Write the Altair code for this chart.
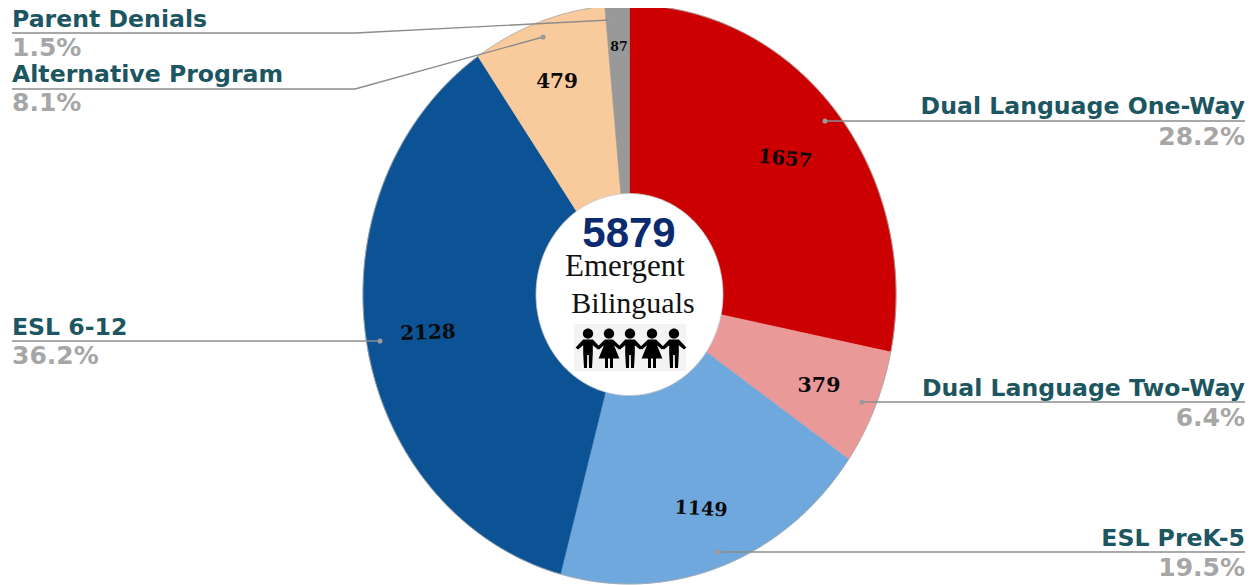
import math
import altair as alt
import pandas as pd

W, H = 1237, 577
categories = ["Dual Language One-Way", "Dual Language Two-Way", "ESL PreK-5", "ESL 6-12", "Alternative Program", "Parent Denials"]
counts = [1657, 379, 1149, 2128, 479, 87]
percents = ["28.2%", "6.4%", "19.5%", "36.2%", "8.1%", "1.5%"]
colors = ["#cc0000", "#ea9999", "#6fa8dc", "#0b5394", "#f9cb9c", "#999999"]
total_label = "5879"

CX, CY, RX, RY = 629.5 - 8, 294.5 - 8, 266.5, 289.5
HRX, HRY = 93.5, 101


def ell(t, rx=RX, ry=RY):
    return CX + rx * math.sin(t), CY - ry * math.cos(t)


features = []
tot = sum(counts)
cum = 0
for c, v in zip(categories, counts):
    a0 = cum / tot * 2 * math.pi
    cum += v
    a1 = cum / tot * 2 * math.pi
    n = max(3, int((a1 - a0) / 0.01))
    ring = [[CX, CY]] + [list(ell(a0 + (a1 - a0) * i / n)) for i in range(n + 1)] + [[CX, CY]]
    features.append({"type": "Feature", "geometry": {"type": "Polygon", "coordinates": [ring]}, "properties": {"cat": c}})

cat_scale = alt.Scale(domain=categories, range=colors)
slices = alt.Chart(alt.Data(values=features)).mark_geoshape(strokeWidth=0.6).encode(
    fill=alt.Fill("properties.cat:N", scale=cat_scale, legend=None),
    stroke=alt.Stroke("properties.cat:N", scale=cat_scale, legend=None),
).project(type="identity", scale=1, translate=[0, 0])


def ellipse_feature(rx, ry):
    ring = [list(ell(2 * math.pi * i / 240, rx, ry)) for i in range(241)]
    return {"type": "Feature", "geometry": {"type": "Polygon", "coordinates": [ring]}, "properties": {}}


outline = alt.Chart(alt.Data(values=[ellipse_feature(RX, RY)])).mark_geoshape(
    fillOpacity=0, fill="white", stroke="#a8a8a8", strokeWidth=0.8
).project(type="identity", scale=1, translate=[0, 0])
hole = alt.Chart(alt.Data(values=[ellipse_feature(HRX, HRY)])).mark_geoshape(
    fill="white", stroke="#c4c4c4", strokeWidth=0.8
).project(type="identity", scale=1, translate=[0, 0])

X = alt.X("x:Q", scale=alt.Scale(domain=[0, W], range=[0, W]), axis=None)
Y = alt.Y("y:Q", scale=alt.Scale(domain=[0, H], range=[0, H]), axis=None)

leaders = {
    "Dual Language One-Way": [(1245, 121), (825, 121)],
    "Dual Language Two-Way": [(1245, 402), (862, 402)],
    "ESL PreK-5": [(1245, 552), (718, 552)],
    "ESL 6-12": [(12, 341), (380, 341)],
    "Alternative Program": [(12, 89), (355, 89), (543, 37)],
    "Parent Denials": [(12, 33), (355, 33), (610, 20)],
}
rows, dots = [], []
for c, pts in leaders.items():
    for i, (px, py) in enumerate(pts):
        rows.append({"cat": c, "i": i, "x": px - 8, "y": py - 8})
    dots.append({"x": pts[-1][0] - 8, "y": pts[-1][1] - 8})
lines = alt.Chart(pd.DataFrame(rows)).mark_line(color="#8c8c8c", strokeWidth=1.4).encode(x=X, y=Y, detail="cat:N", order="i:Q")
dot = alt.Chart(pd.DataFrame(dots)).mark_point(filled=True, color="#9a9a9a", size=26, opacity=1).encode(x=X, y=Y)


def text_layer(df, **kw):
    return alt.Chart(pd.DataFrame(df)).mark_text(**kw).encode(x=X, y=Y, text="t:N")


name_pos = {"Dual Language One-Way": (1245, 114), "Dual Language Two-Way": (1245, 396), "ESL PreK-5": (1245, 546), "ESL 6-12": (12, 335), "Alternative Program": (12, 82), "Parent Denials": (12, 27)}
pct_pos = {"Dual Language One-Way": (1245, 145), "Dual Language Two-Way": (1245, 426), "ESL PreK-5": (1245, 576), "ESL 6-12": (12, 364), "Alternative Program": (12, 111), "Parent Denials": (12, 56)}
label_layers = []
for side, pick in (("left", lambda p: p[0] < 100), ("right", lambda p: p[0] > 100)):
    nm = [{"x": name_pos[c][0] - 8, "y": name_pos[c][1] - 8, "t": c} for c in categories if pick(name_pos[c])]
    pc = [{"x": pct_pos[c][0] - 8, "y": pct_pos[c][1] - 8, "t": p} for c, p in zip(categories, percents) if pick(pct_pos[c])]
    label_layers.append(text_layer(nm, align=side, baseline="alphabetic", font="DejaVu Sans", fontWeight="bold", fontSize=23.6, color="#1c5661"))
    label_layers.append(text_layer(pc, align=side, baseline="alphabetic", font="DejaVu Sans", fontWeight="bold", fontSize=25, color="#a6a6a6"))

val_pos = {"Dual Language One-Way": (785, 159, 5, 19.5), "Dual Language Two-Way": (819, 386, 0, 20.5), "ESL PreK-5": (701, 509, 3, 19), "ESL 6-12": (428, 333, 358, 20), "Alternative Program": (557, 82, 0, 20), "Parent Denials": (619, 47, 0, 12.5)}
val_layers = []
for c, v in zip(categories, counts):
    px, py, ang, fs = val_pos[c]
    val_layers.append(text_layer([{"x": px - 8, "y": py - 8, "t": str(v)}], align="center", baseline="middle", font="DejaVu Serif", fontWeight="bold", fontSize=fs, angle=ang, color="#0a0a0a"))

center = [
    text_layer([{"x": 629 - 8, "y": 234 - 8, "t": total_label}], align="center", baseline="middle", font="Liberation Sans", fontWeight="bold", fontSize=42, color="#0b2a6f"),
    text_layer([{"x": 625 - 8, "y": 267 - 8, "t": "Emergent"}], align="center", baseline="middle", font="Liberation Serif", fontSize=31, color="#111111"),
    text_layer([{"x": 633 - 8, "y": 304 - 8, "t": "Bilinguals"}], align="center", baseline="middle", font="Liberation Serif", fontSize=30, color="#111111"),
]

icon_bg = alt.Chart(pd.DataFrame([{"x": 574 - 8, "x2": 686 - 8, "y": 324 - 8, "y2": 371 - 8}])).mark_rect(color="#f3f3f3").encode(x=X, x2="x2:Q", y=Y, y2="y2:Q")
HEAD = "M-0.26,-0.72 A0.26,0.26 0 1 1 0.26,-0.72 A0.26,0.26 0 1 1 -0.26,-0.72 Z "
BOY = HEAD + "M-0.24,-0.42 L0.24,-0.42 L0.62,-0.02 L0.5,0.08 L0.24,-0.14 L0.24,0.28 L0.2,1 L0.05,1 L0.04,0.35 L-0.04,0.35 L-0.05,1 L-0.2,1 L-0.24,0.28 L-0.24,-0.14 L-0.5,0.08 L-0.62,-0.02 Z"
GIRL = HEAD + "M-0.2,-0.42 L0.2,-0.42 L0.62,-0.02 L0.5,0.08 L0.25,-0.14 L0.52,0.52 L0.2,0.52 L0.2,1 L0.05,1 L0.05,0.52 L-0.05,0.52 L-0.05,1 L-0.2,1 L-0.2,0.52 L-0.52,0.52 L-0.25,-0.14 L-0.5,0.08 L-0.62,-0.02 Z"
icons = []
for ix, sh in [(588, BOY), (609, GIRL), (630, BOY), (652, GIRL), (674, BOY)]:
    icons.append(alt.Chart(pd.DataFrame([{"x": ix - 8, "y": 348 - 8}])).mark_point(shape=sh, filled=True, color="#000000", size=1600, opacity=1).encode(x=X, y=Y))

chart = alt.layer(slices, outline, hole, lines, dot, *label_layers, *val_layers, *center, icon_bg, *icons).properties(
    width=W, height=H, padding=0, background="white", autosize=alt.AutoSizeParams(type="none")
).configure_view(stroke=None)
chart.save("out.html", embed_options={"renderer": "svg", "actions": False})
